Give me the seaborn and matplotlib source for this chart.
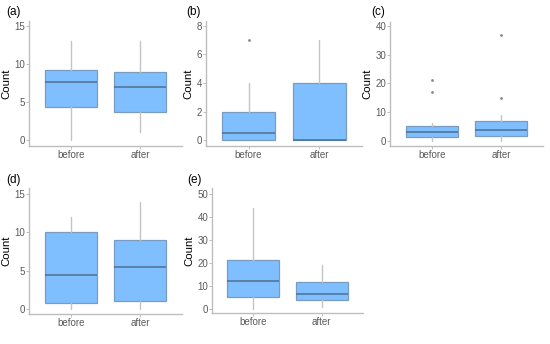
import matplotlib
matplotlib.use("Agg")
import matplotlib.pyplot as plt
import seaborn as sns

sns.set_theme(style="white")
plt.rcParams['font.family'] = ['Liberation Sans', 'DejaVu Sans']

groups = ["before", "after"]
panel_labels = ["(a)", "(b)", "(c)", "(d)", "(e)"]

# box statistics per panel: [before, after]
whislo = [[0, 1], [0, 0], [0, 0], [0, 0], [0, 1.1]]
q1 = [[4.3, 3.7], [0, 0], [1.2, 1.6], [0.8, 1.0], [5.2, 4.0]]
med = [[7.6, 7.0], [0.5, 0], [3.1, 3.7], [4.5, 5.5], [12.3, 6.8]]
q3 = [[9.2, 9.0], [2, 4], [5.3, 6.9], [10, 9], [21.4, 11.7]]
whishi = [[13, 13], [4, 7], [6, 9], [12, 14], [44.2, 19.3]]
fliers = [[[], []], [[7], []], [[17, 21], [15, 37]], [[], []], [[], []]]

yticks = [[0, 5, 10, 15], [0, 2, 4, 6, 8], [0, 10, 20, 30, 40],
          [0, 5, 10, 15], [0, 10, 20, 30, 40, 50]]
ylims = [(-0.79, 15.66), (-0.42, 8.35), (-1.85, 41.4), (-0.65, 15.8), (-1.6, 52.7)]

W, H = 550, 344
# axes rectangles in pixels: x0, x1, ytop, ybottom
rects = [(29, 182, 21, 146), (206, 362, 21, 146), (390, 543, 22, 146),
         (29, 182, 188, 314), (212, 363, 188, 313)]
label_pos = [(6, 12), (186, 12), (371, 12), (6, 180), (187, 180)]

fig = plt.figure(figsize=(W / 100, H / 100), dpi=100)
fig.patch.set_facecolor("white")

box_fill = "#80bfff"
box_edge = "#7a9cc0"
med_col = "#4f6f8f"
wh_col = "#c4c4c4"
spine_col = "#bdbdbd"
tick_col = "#5a5a5a"

for i in range(5):
    x0, x1, yt, yb = rects[i]
    ax = fig.add_axes([x0 / W, 1 - yb / H, (x1 - x0) / W, (yb - yt) / H])
    stats = []
    for j, g in enumerate(groups):
        stats.append(dict(label=g, whislo=whislo[i][j], q1=q1[i][j], med=med[i][j],
                          q3=q3[i][j], whishi=whishi[i][j], fliers=fliers[i][j]))
    ax.bxp(stats, positions=[0, 1], widths=0.75, patch_artist=True, showcaps=False,
           boxprops=dict(facecolor=box_fill, edgecolor=box_edge, linewidth=0.9),
           medianprops=dict(color=med_col, linewidth=1.1),
           whiskerprops=dict(color=wh_col, linewidth=1.0),
           flierprops=dict(marker="o", markersize=1.0, markerfacecolor="#8a8a8a",
                           markeredgecolor="#8a8a8a", linestyle="none"))
    ax.set_xlim(-0.6, 1.6)
    ax.set_ylim(*ylims[i])
    ax.set_yticks(yticks[i])
    ax.set_xticks([0, 1])
    ax.set_xticklabels(groups)
    for side in ["top", "right"]:
        ax.spines[side].set_visible(False)
    for side in ["left", "bottom"]:
        ax.spines[side].set_color(spine_col)
        ax.spines[side].set_linewidth(1.0)
    ax.tick_params(axis="both", colors=spine_col, labelcolor=tick_col, labelsize=7,
                   length=2, width=0.7, pad=0.6, left=True, bottom=True)
    ax.set_ylabel("Count", fontsize=8.2, color="black", labelpad=2.5)
    ax.set_facecolor("white")
    fig.text(label_pos[i][0] / W, 1 - label_pos[i][1] / H, panel_labels[i],
             fontsize=8.5, color="black", va="center", ha="left")

fig.savefig("out.png", dpi=100, facecolor="white")
